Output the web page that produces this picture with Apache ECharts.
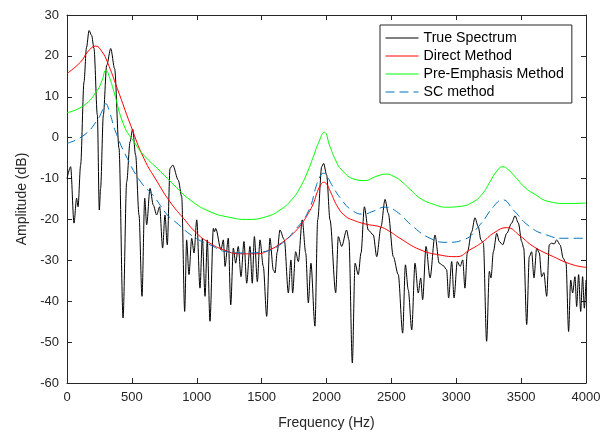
<!DOCTYPE html>
<html>
<head>
<meta charset="utf-8">
<script src="https://cdn.jsdelivr.net/npm/echarts@6/dist/echarts.min.js"></script>
<style>
  html, body { margin: 0; padding: 0; background: #fff; }
  #chart { width: 615px; height: 435px; }
</style>
</head>
<body>
<div id="chart"></div>
<script>
// true spectrum (Hz, dB)
const trueFreq = [0, 28, 54, 74, 85, 105, 131, 150, 170, 190, 208, 234, 249, 259, 280, 306, 337, 367, 401, 432,
  460, 486, 506, 529, 555, 578, 599, 614, 640, 665, 691, 714, 737, 755, 773, 794, 815, 858, 884, 907,
  922, 940, 961, 979, 1000, 1025, 1043, 1064, 1081, 1102, 1128, 1137, 1146, 1187, 1205, 1218, 1243, 1262, 1282, 1300,
  1320, 1341, 1364, 1385, 1410, 1428, 1444, 1467, 1487, 1513, 1539, 1564, 1590, 1603, 1620, 1641, 1675, 1706, 1726, 1739,
  1762, 1783, 1813, 1840, 1860, 1880, 1911, 1932, 1963, 1978, 2001, 2027, 2071, 2091, 2117, 2155, 2173, 2199, 2220, 2245,
  2266, 2292, 2322, 2361, 2387, 2420, 2451, 2476, 2515, 2553, 2587, 2608, 2630, 2657, 2682, 2707, 2726, 2741, 2767, 2798,
  2836, 2869, 2900, 2926, 2941, 2965, 2983, 3008, 3030, 3050, 3067, 3085, 3119, 3144, 3170, 3190, 3209, 3234, 3255, 3268,
  3286, 3312, 3332, 3358, 3389, 3427, 3453, 3479, 3504, 3520, 3543, 3563, 3581, 3599, 3620, 3640, 3658, 3675, 3697, 3717,
  3735, 3755, 3774, 3800, 3825, 3846, 3866, 3882, 3897, 3915, 3928, 3943, 3959, 3974, 3987, 4000];
const trueAmp = [-10, -7.1, -20.9, -14.8, -16.9, -6.7, 13.6, 22, 26.2, 25, 21.8, 5.5, -17.7, -12.4, 5.5, 17.7, 21.8, 16.9, -2.6, -44.1,
  -10.8, -1, 2.1, -4.3, -18.9, -38.8, -14.8, -21.3, -12.4, -16.5, -18.9, -16.9, -27, -18.9, -26.2, -7.5, -6.7, -10.4, -14.4, -42.5,
  -25, -33.5, -24.6, -28.2, -20.1, -36.8, -24.6, -38.8, -25, -44.9, -22.2, -23, -22.2, -27.4, -25, -31.5, -24.6, -40.9, -27, -30.7,
  -26.6, -34, -25.4, -35.6, -26.6, -35.6, -24.2, -35.2, -25, -31.5, -43.7, -24.6, -32.3, -33.1, -28, -22.6, -25, -38, -29.9, -38,
  -27.9, -30.3, -20.1, -28.2, -40.4, -30.7, -46.1, -20.1, -7.1, -6.3, -9.1, -20.1, -37.9, -24.2, -26.6, -22.6, -25, -55.1, -30.7, -33.5,
  -28.2, -16.9, -22.6, -23.8, -29.1, -21.8, -15.1, -18.5, -29.1, -33.5, -47.8, -31.1, -37.2, -47, -30.7, -38, -34.3, -39.6, -26.6, -34.3,
  -23.8, -30.7, -31.3, -32.3, -39.2, -30.3, -39.2, -30.3, -31.5, -29.9, -36.8, -28.2, -23, -19.6, -21.8, -25, -25.8, -49.8, -32.7, -34.3,
  -27.9, -23.4, -25.4, -26.2, -23.4, -20.9, -19.1, -20.9, -25.4, -27, -45.7, -29.1, -27.9, -34.3, -27, -28.2, -34, -33, -38.8, -26.2,
  -25.8, -26, -25, -26.2, -29.5, -30.7, -47.4, -34.8, -38, -34, -41.3, -33.5, -42.5, -34, -41.7, -34.8];

// direct method
const directFreq = [0, 105, 160, 221, 270, 311, 388, 491, 593, 696, 794, 897, 1000, 1102, 1205, 1333, 1462, 1564, 1641, 1700,
  1757, 1810, 1860, 1900, 1930, 1960, 1978, 2000, 2030, 2091, 2150, 2200, 2297, 2412, 2480, 2566, 2721, 2875, 3003, 3106,
  3200, 3290, 3389, 3491, 3594, 3748, 3900, 4000];
const directAmp = [15.7, 18.5, 21, 22.4, 21, 18.5, 12, 3, -5.1, -10.8, -15.7, -19.7, -23.4, -25.8, -27.4, -28.4, -28.4, -27.4, -26, -24.6,
  -23, -21, -18.5, -16, -13.2, -11.3, -10.9, -11.3, -13.2, -17.2, -19.3, -20.1, -21.1, -21.8, -22.8, -24.6, -27.4, -28.7, -29.1, -27.4,
  -25.6, -23.3, -22, -24, -26.6, -29.1, -31.1, -31.7];

// pre-emphasis method
const preFreq = [0, 131, 234, 270, 300, 330, 362, 439, 516, 593, 722, 825, 948, 1102, 1256, 1385, 1539, 1641, 1731, 1800,
  1860, 1900, 1937, 1983, 2027, 2070, 2117, 2220, 2297, 2380, 2464, 2520, 2566, 2650, 2721, 2826, 2926, 3031, 3131, 3200,
  3260, 3310, 3357, 3400, 3466, 3530, 3592, 3723, 3850, 4000];
const preAmp = [6.1, 7.9, 11.6, 14, 16.5, 14.5, 11.2, 3, -1, -4.3, -8.3, -11.6, -15.2, -18.1, -19.5, -20, -19.3, -17.7, -15.2, -12,
  -7.9, -4.5, -1.4, 1.3, -2.2, -5.5, -7.9, -10.2, -10.5, -9.5, -8.9, -9.5, -10.4, -12.8, -14.8, -16.3, -17, -16.8, -15.7, -13.8,
  -10.8, -8.3, -7.1, -7.8, -10, -12.2, -13.6, -15.7, -16.1, -16];

// SC method
const scFreq = [0, 131, 234, 270, 298, 330, 375, 465, 568, 670, 773, 832, 974, 1102, 1231, 1385, 1513, 1641, 1757, 1860,
  1924, 1950, 1975, 2000, 2040, 2117, 2194, 2284, 2360, 2451, 2541, 2669, 2798, 2926, 3054, 3183, 3286, 3358, 3440, 3568,
  3697, 3825, 4000];
const scAmp = [-1.4, 0.6, 4.3, 6.5, 8.3, 6, 1.4, -5.1, -10.8, -14.4, -18.9, -20.5, -24.2, -26.2, -27.9, -28.2, -27.9, -26.2, -22.6, -18,
  -11.5, -9.5, -8.7, -9.2, -11.5, -15.2, -17.7, -18.7, -18, -17, -18.1, -21.8, -24.6, -25.6, -25, -21.3, -16.9, -15.2, -17.7, -21.8,
  -23.8, -24.6, -24.6];

const xTicks = [0, 500, 1000, 1500, 2000, 2500, 3000, 3500, 4000];
const yTicks = [-60, -50, -40, -30, -20, -10, 0, 10, 20, 30];

const pairs = (xs, ys) => xs.map((x, i) => [x, ys[i]]);

const font = "'Liberation Sans', Arial, sans-serif";
const axisColor = '#262626';

const chart = echarts.init(document.getElementById('chart'));

const baseX = {
  type: 'value',
  min: xTicks[0],
  max: xTicks[xTicks.length - 1],
  interval: 500,
  splitLine: { show: false },
  axisLine: { show: true, onZero: false, lineStyle: { color: axisColor, width: 1 } },
  axisTick: { show: true, inside: true, length: 5, lineStyle: { color: axisColor } },
};
const baseY = {
  type: 'value',
  min: yTicks[0],
  max: yTicks[yTicks.length - 1],
  interval: 10,
  splitLine: { show: false },
  axisLine: { show: true, onZero: false, lineStyle: { color: axisColor, width: 1 } },
  axisTick: { show: true, inside: true, length: 5, lineStyle: { color: axisColor } },
};

const option = {
  animation: false,
  backgroundColor: '#fff',
  textStyle: { fontFamily: font },
  grid: { left: 67, right: 29, top: 15, bottom: 51 },
  legend: {
    orient: 'vertical',
    left: 380,
    top: 25,
    backgroundColor: '#fff',
    borderColor: axisColor,
    borderWidth: 1,
    borderRadius: 0,
    padding: [6, 8, 4, 5],
    itemWidth: 33,
    itemHeight: 14,
    itemGap: 4,
    itemStyle: { opacity: 0 },
    lineStyle: { width: 1 },
    textStyle: { fontFamily: font, fontSize: 14.2, color: '#000', lineHeight: 14 },
    data: ['True Spectrum', 'Direct Method', 'Pre-Emphasis Method', 'SC method'],
  },
  xAxis: [
    Object.assign({}, baseX, {
      position: 'bottom',
      name: 'Frequency (Hz)',
      nameLocation: 'middle',
      nameGap: 33,
      nameTextStyle: { fontFamily: font, fontSize: 14, color: axisColor },
      axisLabel: { fontFamily: font, fontSize: 13, color: axisColor, margin: 8, formatter: v => String(v) },
    }),
    Object.assign({}, baseX, { position: 'top', axisLabel: { show: false } }),
  ],
  yAxis: [
    Object.assign({}, baseY, {
      position: 'left',
      name: 'Amplitude (dB)',
      nameLocation: 'middle',
      nameGap: 32,
      nameTextStyle: { fontFamily: font, fontSize: 14, color: axisColor },
      axisLabel: { fontFamily: font, fontSize: 13, color: axisColor, margin: 8 },
    }),
    Object.assign({}, baseY, { position: 'right', axisLabel: { show: false } }),
  ],
  series: [
    {
      name: 'True Spectrum',
      type: 'line',
      data: pairs(trueFreq, trueAmp),
      showSymbol: false,
      symbol: 'none',
      smooth: 0.3,
      smoothMonotone: 'x',
      lineStyle: { color: '#000', width: 1 },
      itemStyle: { color: '#000' },
    },
    {
      name: 'Direct Method',
      type: 'line',
      data: pairs(directFreq, directAmp),
      showSymbol: false,
      symbol: 'none',
      smooth: 0.5,
      lineStyle: { color: '#ff0000', width: 1 },
      itemStyle: { color: '#ff0000' },
    },
    {
      name: 'Pre-Emphasis Method',
      type: 'line',
      data: pairs(preFreq, preAmp),
      showSymbol: false,
      symbol: 'none',
      smooth: 0.5,
      lineStyle: { color: '#00ff00', width: 1 },
      itemStyle: { color: '#00ff00' },
    },
    {
      name: 'SC method',
      type: 'line',
      data: pairs(scFreq, scAmp),
      showSymbol: false,
      symbol: 'none',
      smooth: 0.5,
      lineStyle: { color: '#0072BD', width: 1, type: [9, 5] },
      itemStyle: { color: '#0072BD' },
    },
  ],
};

chart.setOption(option);
</script>
</body>
</html>
